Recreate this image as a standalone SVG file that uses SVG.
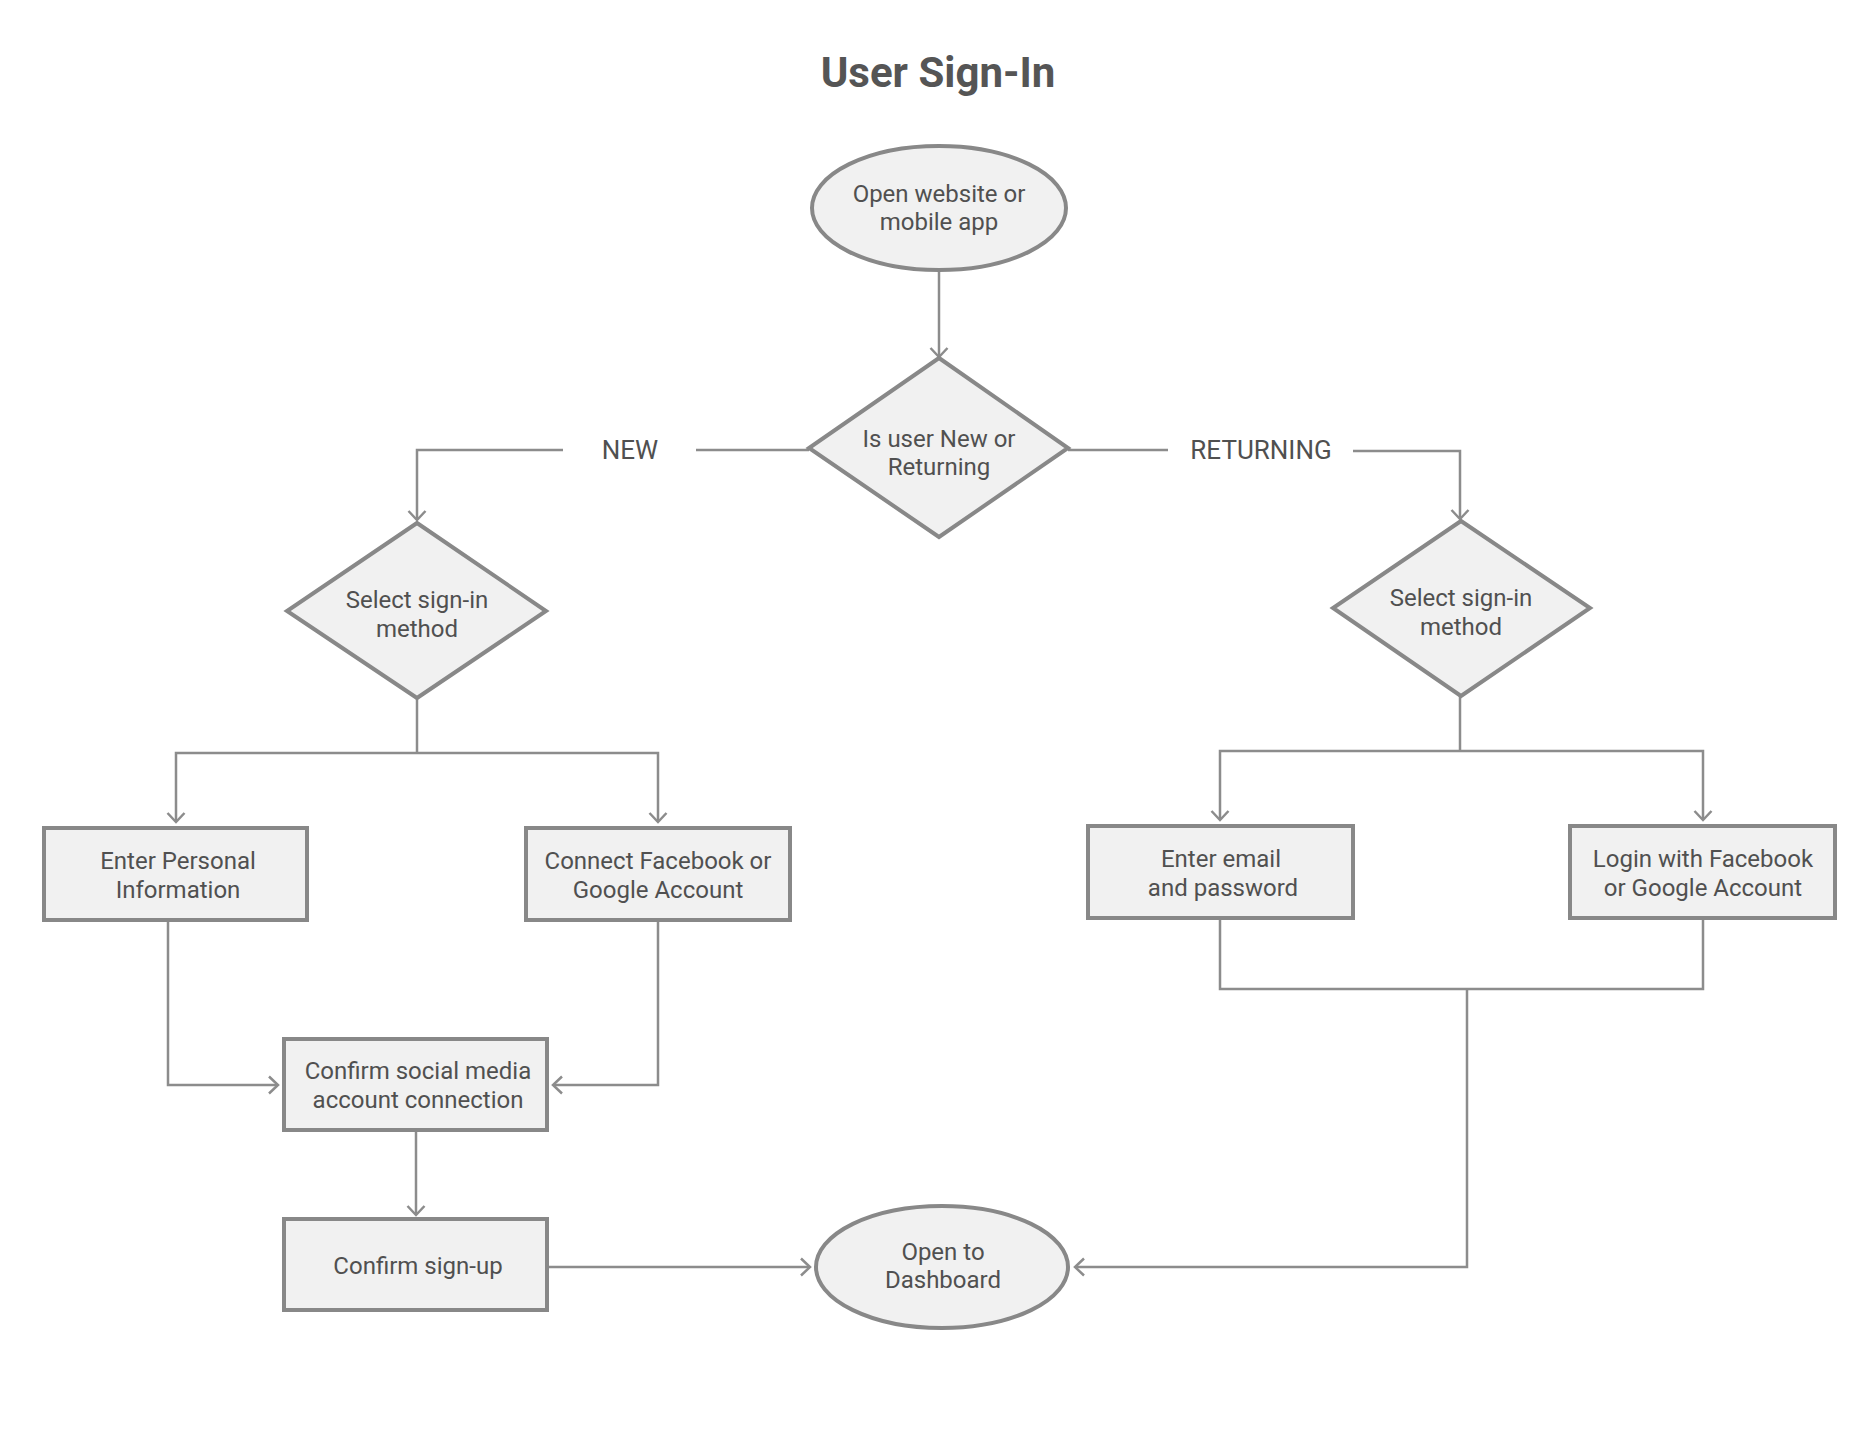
<svg xmlns="http://www.w3.org/2000/svg" width="1872" height="1442" viewBox="0 0 1872 1442">
<style>
.node{fill:#f1f1f1;stroke:#888888;stroke-width:4}
.t{font-family:Roboto,"Liberation Sans",sans-serif;font-size:24px;fill:#505050;text-anchor:middle}
.lbl{font-family:Roboto,"Liberation Sans",sans-serif;font-size:26px;fill:#505050;text-anchor:middle}
.title{font-family:Roboto,"Liberation Sans",sans-serif;font-size:42px;font-weight:bold;fill:#555555;text-anchor:middle}
.c{fill:none;stroke:#8c8c8c;stroke-width:2.5}
.a{marker-end:url(#arr)}
</style>
<defs>
<marker id="arr" markerUnits="userSpaceOnUse" markerWidth="24" markerHeight="24" viewBox="-12 -12 24 24" refX="0" refY="0" orient="auto">
<path d="M-9,-8.5 L0,0 L-9,8.5" fill="none" stroke="#8c8c8c" stroke-width="2.5"/>
</marker>
</defs>
<rect width="1872" height="1442" fill="#ffffff"/>
<text class="title" x="938" y="87">User Sign-In</text>

<g id="connectors">
<path class="c a" d="M939,271 V357"/>
<path class="c" d="M809,450 H696"/>
<path class="c a" d="M563,450 H417 V520"/>
<path class="c" d="M1068,450 H1168"/>
<path class="c a" d="M1353,451 H1460 V519"/>
<path class="c" d="M417,698 V753"/>
<path class="c a" d="M417,753 H176 V822"/>
<path class="c a" d="M417,753 H658 V822"/>
<path class="c" d="M1460,696 V751"/>
<path class="c a" d="M1460,751 H1220 V820"/>
<path class="c a" d="M1460,751 H1703 V820"/>
<path class="c a" d="M168,920 V1085 H278"/>
<path class="c a" d="M658,920 V1085 H553"/>
<path class="c a" d="M416,1130 V1215"/>
<path class="c a" d="M547,1267 H810"/>
<path class="c" d="M1220,918 V989 H1703 V918"/>
<path class="c a" d="M1467,989 V1267 H1075"/>
</g>

<g id="label-new"><text class="lbl" x="630" y="459">NEW</text></g>
<g id="label-returning"><text class="lbl" x="1261" y="459">RETURNING</text></g>

<g id="start">
<ellipse class="node" cx="939" cy="208" rx="127" ry="62"/>
<text class="t" x="939" y="202">Open website or</text>
<text class="t" x="939" y="230">mobile app</text>
</g>

<g id="decision-user">
<polygon class="node" points="939,358 1068,448 939,537 809,448"/>
<text class="t" x="939" y="447">Is user New or</text>
<text class="t" x="939" y="475">Returning</text>
</g>

<g id="decision-new">
<polygon class="node" points="417,523 546,611 417,698 287,611"/>
<text class="t" x="417" y="608">Select sign-in</text>
<text class="t" x="417" y="637">method</text>
</g>

<g id="decision-returning">
<polygon class="node" points="1461,521 1590,608 1461,696 1333,608"/>
<text class="t" x="1461" y="606">Select sign-in</text>
<text class="t" x="1461" y="635">method</text>
</g>

<g id="enter-personal">
<rect class="node" x="44" y="828" width="263" height="92"/>
<text class="t" x="178" y="869">Enter Personal</text>
<text class="t" x="178" y="898">Information</text>
</g>

<g id="connect-social">
<rect class="node" x="526" y="828" width="264" height="92"/>
<text class="t" x="658" y="869">Connect Facebook or</text>
<text class="t" x="658" y="898">Google Account</text>
</g>

<g id="enter-email">
<rect class="node" x="1088" y="826" width="265" height="92"/>
<text class="t" x="1221" y="867">Enter email</text>
<text class="t" x="1223" y="896">and password</text>
</g>

<g id="login-social">
<rect class="node" x="1570" y="826" width="265" height="92"/>
<text class="t" x="1703" y="867">Login with Facebook</text>
<text class="t" x="1703" y="896">or Google Account</text>
</g>

<g id="confirm-social">
<rect class="node" x="284" y="1039" width="263" height="91"/>
<text class="t" x="418" y="1079">Confirm social media</text>
<text class="t" x="418" y="1108">account connection</text>
</g>

<g id="confirm-signup">
<rect class="node" x="284" y="1219" width="263" height="91"/>
<text class="t" x="418" y="1274">Confirm sign-up</text>
</g>

<g id="dashboard">
<ellipse class="node" cx="942" cy="1267" rx="126" ry="61"/>
<text class="t" x="943" y="1260">Open to</text>
<text class="t" x="943" y="1288">Dashboard</text>
</g>
</svg>
